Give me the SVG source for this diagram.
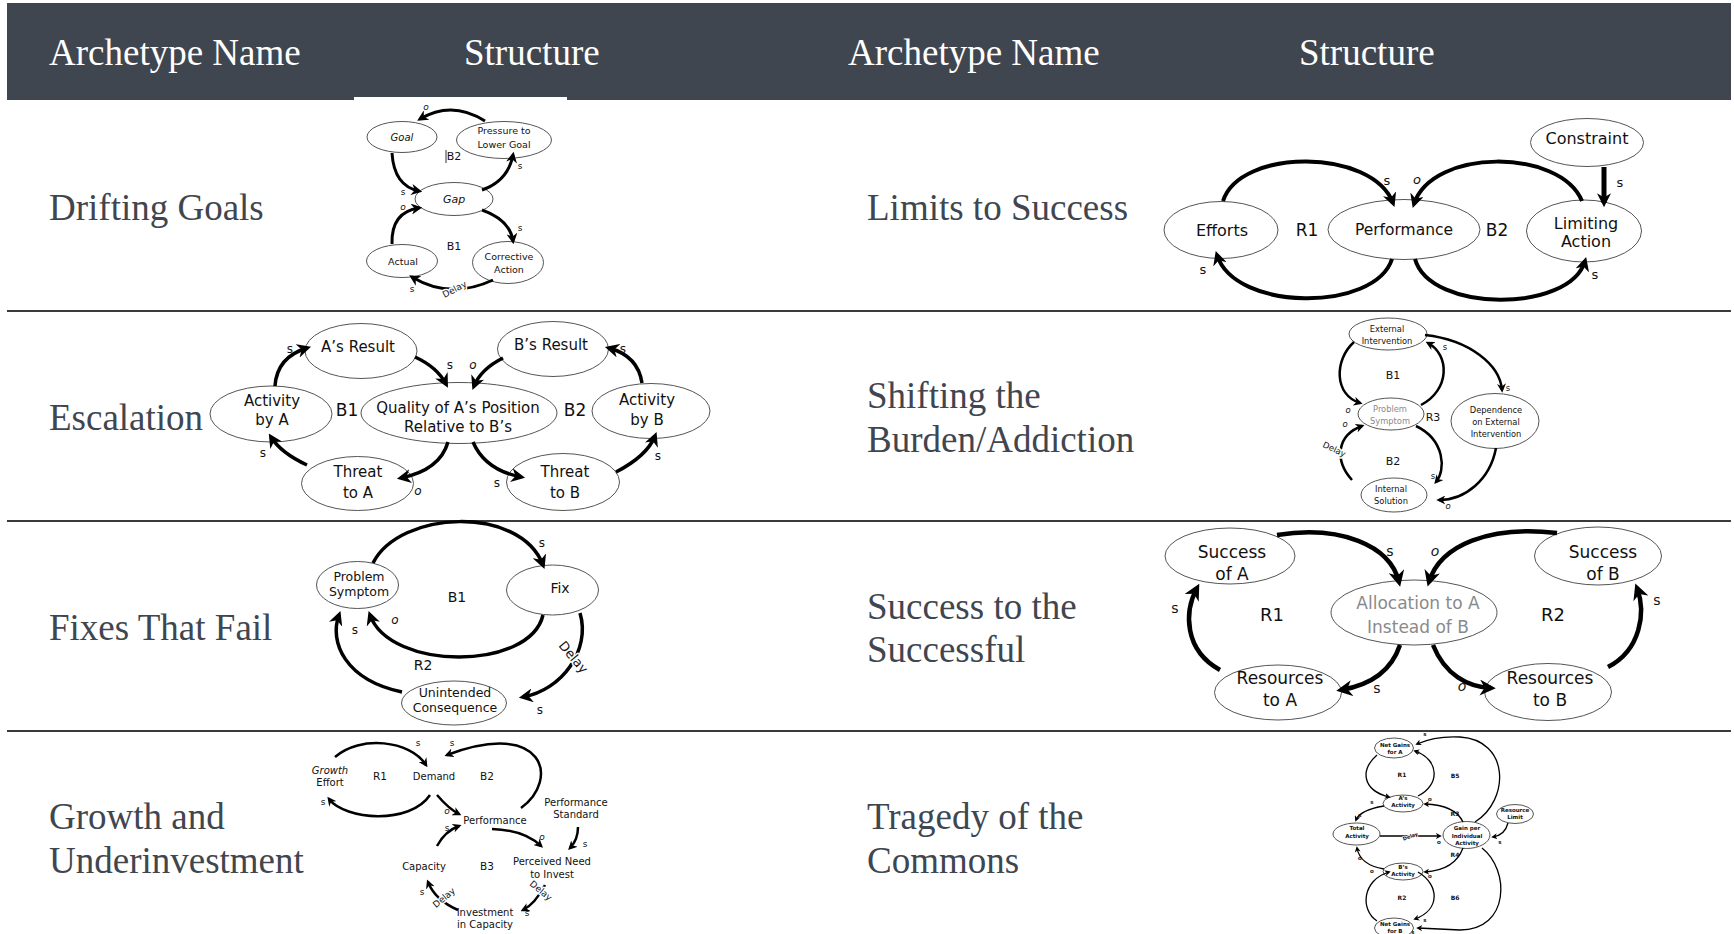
<svg xmlns="http://www.w3.org/2000/svg" width="1734" height="934" viewBox="0 0 1734 934">
<style>
.hdr{font-family:"Liberation Serif",serif;font-size:37px;fill:#ffffff}
.lbl{font-family:"Liberation Serif",serif;font-size:37px;fill:#404650}
.sep{stroke:#3a3a3a;stroke-width:2}
ellipse{fill:#ffffff;stroke:#555555;stroke-width:1}
text.n{font-family:"DejaVu Sans",sans-serif;fill:#111111;text-anchor:middle}
.g{fill:#8a8a8a !important}
.it{font-style:italic}
.halo{stroke:#ffffff;stroke-width:3px;paint-order:stroke;stroke-linejoin:round}
.c path{fill:none;stroke:#000000}
</style>
<defs>
<marker id="m6" viewBox="0 0 10 10" refX="7" refY="5" markerWidth="6" markerHeight="6" markerUnits="userSpaceOnUse" orient="auto"><path d="M0,0 L10,5 L0,10 L3,5 z" fill="#000"/></marker>
<marker id="m9" viewBox="0 0 10 10" refX="7" refY="5" markerWidth="9" markerHeight="9" markerUnits="userSpaceOnUse" orient="auto"><path d="M0,0 L10,5 L0,10 L3,5 z" fill="#000"/></marker>
<marker id="m10" viewBox="0 0 10 10" refX="7" refY="5" markerWidth="11" markerHeight="11" markerUnits="userSpaceOnUse" orient="auto"><path d="M0,0 L10,5 L0,10 L3,5 z" fill="#000"/></marker>
<marker id="m13" viewBox="0 0 10 10" refX="7" refY="5" markerWidth="14" markerHeight="14" markerUnits="userSpaceOnUse" orient="auto"><path d="M0,0 L10,5 L0,10 L3,5 z" fill="#000"/></marker>
<marker id="m15" viewBox="0 0 10 10" refX="7" refY="5" markerWidth="16" markerHeight="16" markerUnits="userSpaceOnUse" orient="auto"><path d="M0,0 L10,5 L0,10 L3,5 z" fill="#000"/></marker>
</defs>
<rect width="1734" height="934" fill="#ffffff"/>
<g id="header">
<rect x="7" y="3" width="1724" height="97" fill="#40464f"/>
<rect x="354" y="97" width="213" height="4" fill="#ffffff"/>
<text class="hdr" x="49" y="65">Archetype Name</text>
<text class="hdr" x="464" y="65">Structure</text>
<text class="hdr" x="848" y="65">Archetype Name</text>
<text class="hdr" x="1299" y="65">Structure</text>
</g>
<g id="separators">
<line class="sep" x1="7" y1="311" x2="1731" y2="311"/>
<line class="sep" x1="7" y1="521" x2="1731" y2="521"/>
<line class="sep" x1="7" y1="731" x2="1731" y2="731"/>
</g>
<g id="row-labels">
<text class="lbl" x="49" y="220">Drifting Goals</text>
<text class="lbl" x="49" y="430">Escalation</text>
<text class="lbl" x="49" y="640">Fixes That Fail</text>
<text class="lbl" x="49" y="829">Growth and</text>
<text class="lbl" x="49" y="873">Underinvestment</text>
<text class="lbl" x="867" y="220">Limits to Success</text>
<text class="lbl" x="867" y="408">Shifting the</text>
<text class="lbl" x="867" y="452">Burden/Addiction</text>
<text class="lbl" x="867" y="619">Success to the</text>
<text class="lbl" x="867" y="662">Successful</text>
<text class="lbl" x="867" y="829">Tragedy of the</text>
<text class="lbl" x="867" y="873">Commons</text>
</g>

<!-- Drifting Goals -->
<g id="drifting-goals">
<g id="dg-goal"><ellipse cx="402" cy="137" rx="35" ry="15.5"/><text class="n it" font-size="10" x="402" y="140.5">Goal</text></g>
<g id="dg-pressure"><ellipse cx="504" cy="140" rx="47.5" ry="18.5"/><text class="n" font-size="9.5" x="504" y="134">Pressure to</text><text class="n" font-size="9.5" x="504" y="147.5">Lower Goal</text></g>
<g id="dg-gap"><ellipse cx="454" cy="199" rx="39" ry="16.5"/><text class="n it" font-size="11" x="454" y="203">Gap</text></g>
<g id="dg-actual"><ellipse cx="402" cy="261" rx="35.5" ry="16.5"/><text class="n" font-size="9.5" x="403" y="264.5">Actual</text></g>
<g id="dg-corrective"><ellipse cx="508" cy="262.5" rx="35.5" ry="21"/><text class="n" font-size="9.5" x="509" y="260">Corrective</text><text class="n" font-size="9.5" x="509" y="273">Action</text></g>
<g id="dg-connectors" class="c" stroke-width="3">
<path d="M485 121 Q452 100 420 119" marker-end="url(#m10)"/>
<path d="M392 153 Q394 186 419 191" marker-end="url(#m10)"/>
<path d="M482 190 Q508 181 513 155" marker-end="url(#m10)"/>
<path d="M482 210 Q510 220 513 241" marker-end="url(#m10)"/>
<path d="M493 280 Q450 300 412 277" marker-end="url(#m10)"/>
<path d="M392 244 Q391 212 419 208" marker-end="url(#m10)"/>
</g>
<line x1="446" y1="150" x2="446" y2="163" stroke="#000" stroke-width="0.8"/>
<text class="n" font-size="11" x="454" y="160">B2</text>
<text class="n" font-size="11" x="454" y="250">B1</text>
<text class="n it" font-size="9" x="426" y="110">o</text>
<text class="n" font-size="9" x="520" y="169">s</text>
<text class="n" font-size="9" x="403" y="195">s</text>
<text class="n it" font-size="9" x="403" y="210">o</text>
<text class="n" font-size="9" x="520" y="231">s</text>
<text class="n" font-size="9" x="412" y="292">s</text>
<text class="n halo" font-size="9" transform="translate(456,292) rotate(-28)">Delay</text>
</g>

<!-- Limits to Success -->
<g id="limits-to-success">
<g id="ls-constraint"><ellipse cx="1587" cy="142.5" rx="56.5" ry="24"/><text class="n" font-size="16" x="1587" y="144">Constraint</text></g>
<g id="ls-efforts"><ellipse cx="1221" cy="230" rx="57" ry="28.5"/><text class="n" font-size="16" x="1222" y="236">Efforts</text></g>
<g id="ls-performance"><ellipse cx="1404" cy="229.5" rx="76" ry="30"/><text class="n" font-size="15.5" x="1404" y="235">Performance</text></g>
<g id="ls-limiting"><ellipse cx="1584" cy="231" rx="57.5" ry="31"/><text class="n" font-size="16" x="1586" y="229">Limiting</text><text class="n" font-size="16" x="1586" y="247">Action</text></g>
<g id="ls-connectors" class="c" stroke-width="4">
<path d="M1223 201 C1240 148 1372 148 1393 203" marker-end="url(#m13)"/>
<path d="M1392 259 C1375 312 1235 312 1217 255" marker-end="url(#m13)"/>
<path d="M1582 201 C1560 148 1432 148 1414 204" marker-end="url(#m13)"/>
<path d="M1415 259 C1430 313 1570 313 1585 261" marker-end="url(#m13)"/>
<path d="M1604 167 L1604 203" stroke-width="5" marker-end="url(#m13)"/>
</g>
<text class="n" font-size="17" x="1307" y="236">R1</text>
<text class="n" font-size="17" x="1497" y="236">B2</text>
<text class="n" font-size="13" x="1387" y="185">s</text>
<text class="n it" font-size="13" x="1417" y="184">o</text>
<text class="n" font-size="13" x="1620" y="187">s</text>
<text class="n" font-size="13" x="1203" y="274">s</text>
<text class="n" font-size="13" x="1595" y="279">s</text>
</g>

<!-- Escalation -->
<g id="escalation">
<g id="es-aresult"><ellipse cx="361" cy="351" rx="56" ry="27.5"/><text class="n" font-size="15" x="358" y="352">A’s Result</text></g>
<g id="es-bresult"><ellipse cx="553" cy="349" rx="55.5" ry="27.5"/><text class="n" font-size="15" x="551" y="350">B’s Result</text></g>
<g id="es-activitya"><ellipse cx="271" cy="414" rx="61" ry="28"/><text class="n" font-size="15" x="272" y="406">Activity</text><text class="n" font-size="15" x="272" y="425">by A</text></g>
<g id="es-quality"><ellipse cx="459" cy="413" rx="98" ry="30.5"/><text class="n" font-size="15" x="458" y="413">Quality of A’s Position</text><text class="n" font-size="15" x="458" y="432">Relative to B’s</text></g>
<g id="es-activityb"><ellipse cx="651" cy="411" rx="59" ry="27.5"/><text class="n" font-size="15" x="647" y="405">Activity</text><text class="n" font-size="15" x="647" y="425">by B</text></g>
<g id="es-threata"><ellipse cx="357.5" cy="483.5" rx="56" ry="27"/><text class="n" font-size="15" x="358" y="477">Threat</text><text class="n" font-size="15" x="358" y="498">to A</text></g>
<g id="es-threatb"><ellipse cx="563" cy="482" rx="56.5" ry="28.5"/><text class="n" font-size="15" x="565" y="477">Threat</text><text class="n" font-size="15" x="565" y="498">to B</text></g>
<g id="es-connectors" class="c" stroke-width="3.5">
<path d="M275 386 Q277 357 307 348" marker-end="url(#m13)"/>
<path d="M415 357 Q437 367 446 384" marker-end="url(#m13)"/>
<path d="M503 358 Q481 369 474 386" marker-end="url(#m13)"/>
<path d="M642 383 Q638 356 609 348" marker-end="url(#m13)"/>
<path d="M307 465 Q281 453 271 437" marker-end="url(#m13)"/>
<path d="M448 442 Q440 470 401 478" marker-end="url(#m13)"/>
<path d="M473 442 Q485 470 521 477" marker-end="url(#m13)"/>
<path d="M616 472 Q647 456 655 436" marker-end="url(#m13)"/>
</g>
<text class="n" font-size="17" x="347" y="416">B1</text>
<text class="n" font-size="17" x="575" y="416">B2</text>
<text class="n" font-size="12" x="290" y="353">s</text>
<text class="n" font-size="12" x="450" y="369">s</text>
<text class="n it" font-size="12" x="473" y="369">o</text>
<text class="n" font-size="12" x="623" y="353">s</text>
<text class="n" font-size="12" x="263" y="457">s</text>
<text class="n it" font-size="12" x="418" y="495">o</text>
<text class="n" font-size="12" x="497" y="487">s</text>
<text class="n" font-size="12" x="658" y="460">s</text>
</g>

<!-- Shifting the Burden -->
<g id="shifting-the-burden">
<g id="sb-external"><ellipse cx="1388" cy="334" rx="39" ry="16"/><text class="n" font-size="8.3" x="1387" y="331.5">External</text><text class="n" font-size="8.3" x="1387" y="343.5">Intervention</text></g>
<g id="sb-problem"><ellipse cx="1391" cy="414" rx="33" ry="16"/><text class="n g" font-size="8.3" x="1390" y="411.5">Problem</text><text class="n g" font-size="8.3" x="1390" y="423.5">Symptom</text></g>
<g id="sb-dependence"><ellipse cx="1495" cy="421" rx="44" ry="27.5"/><text class="n" font-size="8.3" x="1496" y="413">Dependence</text><text class="n" font-size="8.3" x="1496" y="425">on External</text><text class="n" font-size="8.3" x="1496" y="437">Intervention</text></g>
<g id="sb-internal"><ellipse cx="1394" cy="495" rx="33" ry="17"/><text class="n" font-size="8.3" x="1391" y="492">Internal</text><text class="n" font-size="8.3" x="1391" y="504">Solution</text></g>
<g id="sb-connectors" class="c" stroke-width="2.5">
<path d="M1354 342 C1334 360 1334 395 1360 403" marker-end="url(#m9)"/>
<path d="M1421 405 C1450 390 1450 355 1428 343" marker-end="url(#m9)"/>
<path d="M1425 335 C1470 340 1500 365 1502 390" marker-end="url(#m9)"/>
<path d="M1416 426 C1445 440 1446 470 1436 482" marker-end="url(#m9)"/>
<path d="M1352 480 C1334 460 1337 435 1362 426" marker-end="url(#m9)"/>
<path d="M1496 448 C1490 480 1465 500 1439 500" marker-end="url(#m9)"/>
</g>
<text class="n" font-size="11" x="1393" y="379">B1</text>
<text class="n" font-size="11" x="1433" y="420.5">R3</text>
<text class="n" font-size="11" x="1393" y="465">B2</text>
<text class="n halo" font-size="8.5" transform="translate(1333,452) rotate(25)">Delay</text>
<text class="n" font-size="8.5" x="1445" y="350">s</text>
<text class="n" font-size="8.5" x="1508" y="391">s</text>
<text class="n it" font-size="8.5" x="1348" y="413">o</text>
<text class="n it" font-size="8.5" x="1345" y="427">o</text>
<text class="n" font-size="8.5" x="1433" y="479">s</text>
<text class="n it" font-size="8.5" x="1448" y="509">o</text>
</g>

<!-- Fixes That Fail -->
<g id="fixes-that-fail">
<g id="ff-problem"><ellipse cx="357.5" cy="585" rx="41" ry="23.5"/><text class="n" font-size="12.5" x="359" y="581">Problem</text><text class="n" font-size="12.5" x="359" y="596">Symptom</text></g>
<g id="ff-fix"><ellipse cx="552.5" cy="590" rx="46" ry="25"/><text class="n" font-size="14" x="560" y="593">Fix</text></g>
<g id="ff-unintended"><ellipse cx="454" cy="703" rx="52.5" ry="22"/><text class="n" font-size="12.5" x="455" y="697">Unintended</text><text class="n" font-size="12.5" x="455" y="712">Consequence</text></g>
<g id="ff-connectors" class="c" stroke-width="3.5">
<path d="M373 563 C400 510 520 505 543 565" marker-end="url(#m13)"/>
<path d="M543 615 C530 671 390 671 370 615" marker-end="url(#m13)"/>
<path d="M580 613 C591 650 562 690 523 697" marker-end="url(#m13)"/>
<path d="M402 692 C345 680 329 642 339 615" marker-end="url(#m13)"/>
</g>
<text class="n" font-size="14" x="457" y="602">B1</text>
<text class="n" font-size="14" x="423" y="670">R2</text>
<text class="n halo" font-size="13" transform="translate(570,660) rotate(50)">Delay</text>
<text class="n" font-size="12" x="542" y="547">s</text>
<text class="n it" font-size="12" x="395" y="624">o</text>
<text class="n" font-size="12" x="355" y="634">s</text>
<text class="n" font-size="12" x="540" y="714">s</text>
</g>

<!-- Success to the Successful -->
<g id="success-to-the-successful">
<g id="ss-successa"><ellipse cx="1230" cy="556" rx="65" ry="28"/><text class="n" font-size="17" x="1232" y="558">Success</text><text class="n" font-size="17" x="1232" y="580">of A</text></g>
<g id="ss-allocation"><ellipse cx="1414" cy="612.5" rx="83" ry="32.5"/><text class="n g" font-size="17" x="1418" y="609">Allocation to A</text><text class="n g" font-size="17" x="1418" y="633">Instead of B</text></g>
<g id="ss-successb"><ellipse cx="1598" cy="556" rx="63.5" ry="29"/><text class="n" font-size="17" x="1603" y="558">Success</text><text class="n" font-size="17" x="1603" y="580">of B</text></g>
<g id="ss-resourcesa"><ellipse cx="1278" cy="692.5" rx="63.5" ry="27.5"/><text class="n" font-size="17" x="1280" y="684">Resources</text><text class="n" font-size="17" x="1280" y="706">to A</text></g>
<g id="ss-resourcesb"><ellipse cx="1548" cy="692" rx="63.5" ry="28.5"/><text class="n" font-size="17" x="1550" y="684">Resources</text><text class="n" font-size="17" x="1550" y="706">to B</text></g>
<g id="ss-connectors" class="c" stroke-width="4.5">
<path d="M1277 535 C1340 525 1390 545 1399 582" marker-end="url(#m15)"/>
<path d="M1557 533 C1490 525 1440 545 1429 582" marker-end="url(#m15)"/>
<path d="M1220 670 C1184 650 1184 612 1197 588" marker-end="url(#m15)"/>
<path d="M1400 645 C1390 675 1365 686 1341 690" marker-end="url(#m15)"/>
<path d="M1433 645 C1445 675 1468 687 1491 688" marker-end="url(#m15)"/>
<path d="M1608 667 C1641 650 1646 612 1637 588" marker-end="url(#m15)"/>
</g>
<text class="n" font-size="18" x="1272" y="621">R1</text>
<text class="n" font-size="18" x="1553" y="621">R2</text>
<text class="n" font-size="14" x="1390" y="556">s</text>
<text class="n it" font-size="14" x="1435" y="556">o</text>
<text class="n" font-size="14" x="1175" y="613">s</text>
<text class="n" font-size="14" x="1657" y="605">s</text>
<text class="n" font-size="14" x="1377" y="693">s</text>
<text class="n it" font-size="14" x="1462" y="691">o</text>
</g>

<!-- Growth and Underinvestment -->
<g id="growth-and-underinvestment">
<g id="gu-growth"><text class="n it" font-size="10" x="330" y="774">Growth</text><text class="n" font-size="10" x="330" y="786">Effort</text></g>
<g id="gu-demand"><text class="n" font-size="10" x="434" y="780">Demand</text></g>
<g id="gu-performance"><text class="n" font-size="10" x="495" y="824">Performance</text></g>
<g id="gu-standard"><text class="n" font-size="10" x="576" y="805.5">Performance</text><text class="n" font-size="10" x="576" y="818">Standard</text></g>
<g id="gu-capacity"><text class="n" font-size="10" x="424" y="870">Capacity</text></g>
<g id="gu-perceived"><text class="n" font-size="10" x="552" y="865">Perceived Need</text><text class="n" font-size="10" x="552" y="878">to Invest</text></g>
<g id="gu-investment"><text class="n" font-size="10" x="485" y="916">Investment</text><text class="n" font-size="10" x="485" y="928">in Capacity</text></g>
<g id="gu-connectors" class="c" stroke-width="2.5">
<path d="M335 757 C360 735 410 740 426 765" marker-end="url(#m9)"/>
<path d="M430 795 C410 825 345 820 329 799" marker-end="url(#m9)"/>
<path d="M521 808 C560 780 545 718 447 755" marker-end="url(#m9)"/>
<path d="M437 795 Q449 809 459 814" marker-end="url(#m9)"/>
<path d="M437 846 Q445 831 459 826" marker-end="url(#m9)"/>
<path d="M492 829 Q524 830 541 846" marker-end="url(#m9)"/>
<path d="M578 827 Q578 840 570 848" marker-end="url(#m9)"/>
<path d="M545 885 Q535 904 523 910" marker-end="url(#m9)"/>
<path d="M458 910 Q435 900 428 882" marker-end="url(#m9)"/>
</g>
<text class="n" font-size="10.5" x="380" y="780">R1</text>
<text class="n" font-size="10.5" x="487" y="780">B2</text>
<text class="n" font-size="10.5" x="487" y="870">B3</text>
<text class="n halo" font-size="9" transform="translate(446,900) rotate(-40)">Delay</text>
<text class="n halo" font-size="9" transform="translate(539,893) rotate(40)">Delay</text>
<text class="n" font-size="9" x="418" y="746">s</text>
<text class="n" font-size="9" x="452" y="746">s</text>
<text class="n" font-size="9" x="323" y="805">s</text>
<text class="n it" font-size="9" x="447" y="814">o</text>
<text class="n" font-size="9" x="447" y="831">s</text>
<text class="n it" font-size="9" x="542" y="840">o</text>
<text class="n" font-size="9" x="585" y="847">s</text>
<text class="n" font-size="9" x="422" y="895">s</text>
<text class="n" font-size="9" x="527" y="916">s</text>
</g>

<!-- Tragedy of the Commons -->
<g id="tragedy-of-the-commons">
<g id="tc-neta"><ellipse cx="1394" cy="748" rx="19.5" ry="10"/><text class="n" font-weight="bold" font-size="5.5" x="1395" y="747">Net Gains</text><text class="n" font-weight="bold" font-size="5.5" x="1395" y="754">for A</text></g>
<g id="tc-aact"><ellipse cx="1403" cy="803.5" rx="20" ry="8.5"/><text class="n" font-weight="bold" font-size="5.5" x="1403" y="799.5">A’s</text><text class="n" font-weight="bold" font-size="5.5" x="1403" y="807">Activity</text></g>
<g id="tc-total"><ellipse cx="1356.5" cy="834" rx="23.5" ry="11"/><text class="n" font-weight="bold" font-size="5.5" x="1357" y="830">Total</text><text class="n" font-weight="bold" font-size="5.5" x="1357" y="837.5">Activity</text></g>
<g id="tc-gain"><ellipse cx="1466.5" cy="835" rx="23.5" ry="13.5"/><text class="n" font-weight="bold" font-size="5.5" x="1467" y="830">Gain per</text><text class="n" font-weight="bold" font-size="5.5" x="1467" y="837.5">Individual</text><text class="n" font-weight="bold" font-size="5.5" x="1467" y="845">Activity</text></g>
<g id="tc-resource"><ellipse cx="1515" cy="814" rx="18.5" ry="9.5"/><text class="n" font-weight="bold" font-size="5.5" x="1515" y="812">Resource</text><text class="n" font-weight="bold" font-size="5.5" x="1515" y="819">Limit</text></g>
<g id="tc-bact"><ellipse cx="1403" cy="871.5" rx="20" ry="8.5"/><text class="n" font-weight="bold" font-size="5.5" x="1403" y="869">B’s</text><text class="n" font-weight="bold" font-size="5.5" x="1403" y="876">Activity</text></g>
<g id="tc-netb"><ellipse cx="1394" cy="928" rx="19.5" ry="10"/><text class="n" font-weight="bold" font-size="5.5" x="1395" y="926">Net Gains</text><text class="n" font-weight="bold" font-size="5.5" x="1395" y="933">for B</text></g>
<g id="tc-connectors" class="c" stroke-width="1.3">
<path d="M1377 755 C1360 770 1362 790 1389 797" marker-end="url(#m6)"/>
<path d="M1418 796 C1440 785 1440 760 1415 751" marker-end="url(#m6)"/>
<path d="M1475 822 C1510 800 1510 740 1460 737 C1440 736 1426 740 1417 744" marker-end="url(#m6)"/>
<path d="M1463 822 Q1455 805 1425 804" marker-end="url(#m6)"/>
<path d="M1384 806 Q1360 810 1356 820" marker-end="url(#m6)"/>
<path d="M1380 836 L1440 836" marker-end="url(#m6)"/>
<path d="M1508 823 Q1505 835 1493 837" marker-end="url(#m6)"/>
<path d="M1463 848 Q1455 870 1425 872" marker-end="url(#m6)"/>
<path d="M1384 869 Q1360 865 1357 848" marker-end="url(#m6)"/>
<path d="M1377 921 C1360 910 1362 880 1389 872" marker-end="url(#m6)"/>
<path d="M1418 872 C1440 885 1440 910 1415 919" marker-end="url(#m6)"/>
<path d="M1482 848 C1510 870 1510 930 1460 930 L1418 928" marker-end="url(#m6)"/>
</g>
<text class="n" font-weight="bold" font-size="6" x="1402" y="777">R1</text>
<text class="n" font-weight="bold" font-size="6" x="1455" y="778">B5</text>
<text class="n" font-weight="bold" font-size="6" x="1455" y="815.5">R3</text>
<text class="n" font-weight="bold" font-size="6" x="1455" y="857">R4</text>
<text class="n" font-weight="bold" font-size="6" x="1402" y="900">R2</text>
<text class="n" font-weight="bold" font-size="6" x="1455" y="900">B6</text>
<text class="n halo" font-weight="bold" font-size="5" style="stroke-width:1.5px" transform="translate(1411,838) rotate(-20)">Delay</text>
<text class="n" font-weight="bold" font-size="5.5" x="1425" y="736">s</text>
<text class="n" font-weight="bold" font-size="5.5" x="1418" y="753.5">s</text>
<text class="n" font-weight="bold" font-size="5.5" x="1372" y="803.5">s</text>
<text class="n" font-weight="bold" font-size="5.5" x="1430" y="801">o</text>
<text class="n" font-weight="bold" font-size="5.5" x="1360" y="817">s</text>
<text class="n" font-weight="bold" font-size="5.5" x="1439" y="844">o</text>
<text class="n" font-weight="bold" font-size="5.5" x="1500" y="843.5">s</text>
<text class="n" font-weight="bold" font-size="5.5" x="1360" y="860">o</text>
<text class="n" font-weight="bold" font-size="5.5" x="1372" y="873">o</text>
<text class="n" font-weight="bold" font-size="5.5" x="1430" y="878">o</text>
<text class="n" font-weight="bold" font-size="5.5" x="1425" y="922">s</text>
<text class="n" font-weight="bold" font-size="5.5" x="1413" y="933.5">s</text>
</g>
</svg>
